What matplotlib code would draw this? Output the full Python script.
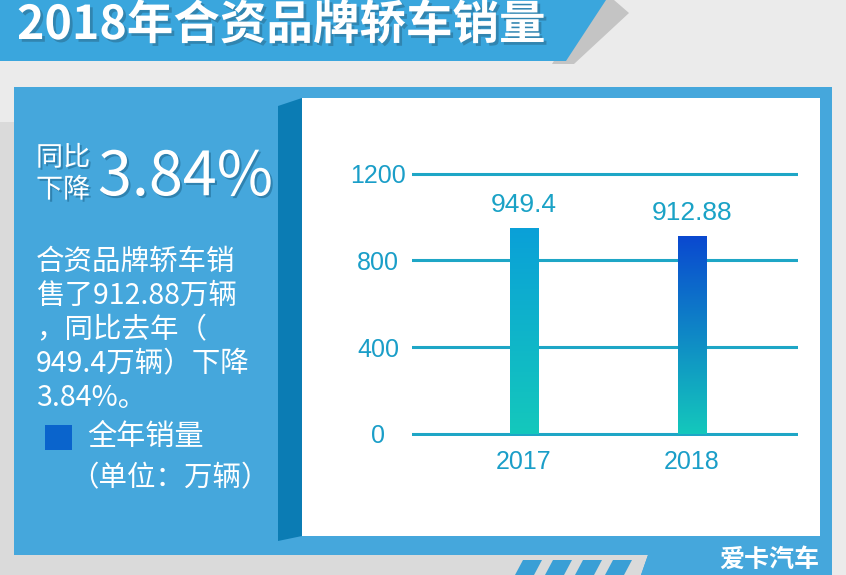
import numpy as np
import matplotlib
matplotlib.use("Agg")
import matplotlib.pyplot as plt
from matplotlib.patches import Polygon, Rectangle
from matplotlib.colors import LinearSegmentedColormap
import matplotlib.patheffects as pe

# ---------- data ----------
years = ["2017", "2018"]
sales = [949.4, 912.88]
yticks = [0, 400, 800, 1200]
title = "2018年合资品牌轿车销量"
drop_pct = "3.84%"
body_lines = ["合资品牌轿车销", "售了912.88万辆", "，同比去年（", "949.4万辆）下降", "3.84%。"]
legend_label = "全年销量"
unit_label = "（单位：万辆）"
logo = "爱卡汽车"

W, H = 846, 575
plt.rcParams['font.family'] = ['Noto Sans CJK SC', 'DejaVu Sans']
plt.rcParams['hatch.linewidth'] = 1.0

fig = plt.figure(figsize=(W / 100, H / 100), dpi=100)
bg = fig.add_axes([0, 0, 1, 1])
bg.set_xlim(0, W); bg.set_ylim(H, 0); bg.axis("off")


def poly(pts, fc, hatch=None, hc=None, z=1):
    p = Polygon(pts, closed=True, facecolor=fc, edgecolor=hc if hatch else "none",
                hatch=hatch, lw=0, zorder=z)
    bg.add_patch(p)


# backgrounds
poly([(0, 0), (W, 0), (W, H), (0, H)], "#e4e4e4", "/" * 20, "#ebebeb", z=0)
poly([(0, 122), (700, 122), (700, H), (0, H)], "#d2d2d2", "/" * 20, "#dadada", z=0.5)

# title banner
poly([(592, 0), (614, 0), (629, 13), (574, 64), (552, 64)], "#c4c4c4", z=1)
poly([(0, 0), (606, 0), (566, 61), (0, 61)], "#3aa6dd", z=2)
bg.text(17, 39, title, color="white", fontsize=33.5, fontweight="bold", va="baseline", zorder=3,
        path_effects=[pe.withSimplePatchShadow(offset=(2, -2), shadow_rgbFace="#2a6a8c", alpha=0.55)])

# big blue panel
poly([(14, 87), (832, 87), (832, H), (641, H), (648, 555), (14, 555)], "#3a9fd6", "/" * 20, "#45a7dc", z=1)
for x0 in [515, 545, 575, 605]:
    poly([(x0 + 8, 560), (x0 + 27, 560), (x0 + 19, H), (x0, H)], "#3a9fd6", z=1.5)

# 3d side and white card
poly([(278, 106), (302, 98), (302, 536), (278, 541)], "#0b7cb4", z=2)
bg.add_patch(Rectangle((302, 98), 518, 438, facecolor="white", edgecolor="none", zorder=2))

# logo
bg.text(769, 560, logo, color="white", fontsize=18, fontweight="bold", ha="center", va="center", zorder=3)

# left texts
shadow = [pe.withSimplePatchShadow(offset=(1.5, -1.5), shadow_rgbFace="#1a5f85", alpha=0.5)]
bg.text(36, 158, "同比", color="white", fontsize=19.5, fontweight="medium", va="center", zorder=3, path_effects=shadow)
bg.text(36, 190, "下降", color="white", fontsize=19.5, fontweight="medium", va="center", zorder=3, path_effects=shadow)
bg.text(98, 178, drop_pct, color="white", fontsize=44, fontweight="medium", va="center", zorder=3, path_effects=shadow)
for i, line in enumerate(body_lines):
    bg.text(36, 262 + i * 34, line, color="white", fontsize=20.5, va="center", zorder=3)
bg.add_patch(Rectangle((45, 425), 27, 25, facecolor="#0a64cc", edgecolor="none", zorder=3))
bg.text(87, 437, legend_label, color="white", fontsize=21, va="center", zorder=3)
bg.text(70, 478, unit_label, color="white", fontsize=20.5, va="center", zorder=3)

# ---------- chart ----------
ax = fig.add_axes([412 / W, 1 - 435.7 / H, (798 - 412) / W, (435.7 - 171.8) / H])
ax.set_facecolor("none")
for s in ax.spines.values():
    s.set_visible(False)

x = np.arange(len(years))
bw = 0.167
grads = [("#14c8bc", "#0aa0d8"), ("#14c8bc", "#0a48d0")]
bars = ax.bar(x, sales, width=bw, color="none", zorder=3)
g = np.linspace(0, 1, 256).reshape(-1, 1)
for b, (c0, c1) in zip(bars, grads):
    cmap = LinearSegmentedColormap.from_list("g", [c0, c1])
    im = ax.imshow(g, extent=[b.get_x(), b.get_x() + b.get_width(), 0, b.get_height()],
                   origin="lower", cmap=cmap, aspect="auto", zorder=3)
    im.set_clip_path(b)

for i, v in enumerate(sales):
    ax.annotate(f"{v}", (x[i], v), xytext=(0, 8), textcoords="offset points", ha="center",
                va="bottom", fontsize=19, color="#1aa2c6", family="Liberation Sans")

ax.set_xlim(-0.667, 1.631)
ax.set_ylim(-8, 1208)
ax.set_yticks(yticks)
ax.set_xticks(x, years)
ax.grid(axis="y", color="#1ea6c6", lw=2.2, zorder=1)
ax.set_axisbelow(True)
ax.tick_params(axis="both", length=0, colors="#1a9ec8", labelsize=18)
ax.tick_params(axis="y", pad=24.5)
ax.tick_params(axis="x", pad=10)
for t in ax.get_yticklabels() + ax.get_xticklabels():
    t.set_family("Liberation Sans")
for t in ax.get_yticklabels():
    t.set_ha("center")

fig.savefig("out.png", dpi=100)
